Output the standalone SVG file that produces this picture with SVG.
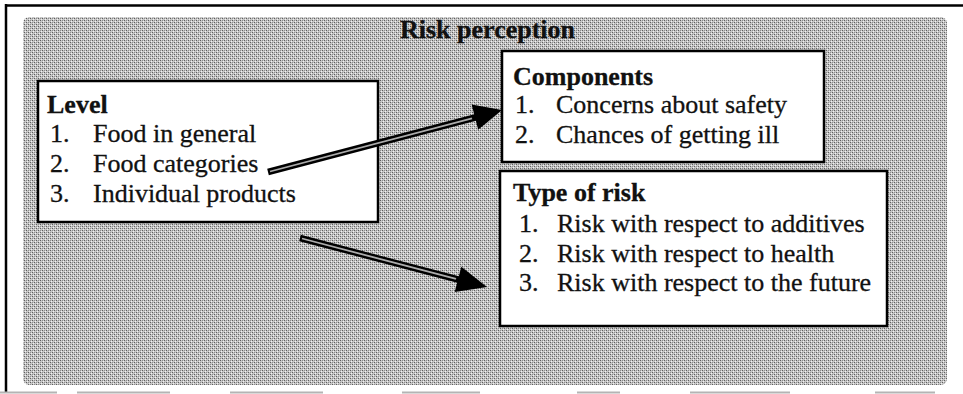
<svg xmlns="http://www.w3.org/2000/svg" width="963" height="394" viewBox="0 0 963 394">
  <defs>
    <pattern id="ht" width="4" height="4" patternUnits="userSpaceOnUse">
      <rect width="4" height="4" fill="#c6c6c6"/>
      <rect x="0" y="0" width="1" height="1" fill="#5e5e5e"/>
      <rect x="2" y="2" width="1" height="1" fill="#5e5e5e"/>
      <rect x="1" y="3" width="1" height="1" fill="#f0f0f0"/>
      <rect x="3" y="1" width="1" height="1" fill="#f0f0f0"/>
      <rect x="2" y="0" width="1" height="1" fill="#8e8e8e"/>
      <rect x="0" y="2" width="1" height="1" fill="#8e8e8e"/>
    </pattern>
    <style>
      .box { fill: #ffffff; stroke: #000000; stroke-width: 2.5; }
      .t { font-family: "Liberation Serif", "Times New Roman", serif; font-size: 26px; fill: #111111; stroke: #111111; stroke-width: 0.3; }
      .b { font-weight: bold; }
      .shaft { fill: none; stroke: #000000; stroke-width: 6.5; stroke-linecap: butt; }
      .inner { fill: none; stroke: #e6e6e6; stroke-width: 1.8; opacity: 0.75; }
      .head { fill: #000000; }
      .frame { stroke: #000000; stroke-width: 2.5; fill: none; }
      .bot { stroke: #b4b4b4; stroke-width: 2; fill: none; }
    </style>
  </defs>

  <rect width="963" height="394" fill="#ffffff"/>

  <g id="frame">
    <line class="frame" x1="5" y1="5.5" x2="963" y2="5.5"/>
    <line class="frame" x1="6" y1="4" x2="6" y2="392"/>
    <path class="bot" d="M0 392.5H57 M77 392.5H170 M230 392.5H323 M402 392.5H480 M577 392.5H620 M690 392.5H790 M875 392.5H935"/>
  </g>

  <g id="background">
    <rect x="23" y="17" width="924" height="368" rx="6" fill="url(#ht)"/>
  </g>

  <g id="title">
    <text class="t b" x="400" y="38" font-size="25">Risk perception</text>
  </g>

  <g id="level">
    <rect class="box" x="38" y="81" width="340" height="141"/>
    <text class="t b" x="47" y="113">Level</text>
    <text class="t" x="50" y="142">1.</text><text class="t" x="93" y="142">Food in general</text>
    <text class="t" x="50" y="172">2.</text><text class="t" x="93" y="172">Food categories</text>
    <text class="t" x="50" y="202">3.</text><text class="t" x="93" y="202">Individual products</text>
  </g>

  <g id="components">
    <rect class="box" x="502" y="51" width="322" height="111"/>
    <text class="t b" x="513" y="85">Components</text>
    <text class="t" x="515" y="113">1.</text><text class="t" x="556" y="113">Concerns about safety</text>
    <text class="t" x="515" y="143">2.</text><text class="t" x="556" y="143">Chances of getting ill</text>
  </g>

  <g id="type-of-risk">
    <rect class="box" x="500" y="171" width="387" height="155"/>
    <text class="t b" x="513" y="201">Type of risk</text>
    <text class="t" x="519" y="232">1.</text><text class="t" x="557" y="232">Risk with respect to additives</text>
    <text class="t" x="519" y="262">2.</text><text class="t" x="557" y="262">Risk with respect to health</text>
    <text class="t" x="519" y="291">3.</text><text class="t" x="557" y="291">Risk with respect to the future</text>
  </g>

  <g id="connectors">
    <g id="arrow-level-components">
      <line class="shaft" x1="268" y1="172" x2="477" y2="117"/>
      <line class="inner" x1="270" y1="171.5" x2="472" y2="118.3"/>
      <polygon class="head" points="502,110 471.6,104.6 478.2,129.8"/>
    </g>
    <g id="arrow-level-type">
      <line class="shaft" x1="300" y1="238" x2="460" y2="280"/>
      <line class="inner" x1="302" y1="238.5" x2="456" y2="278.9"/>
      <polygon class="head" points="487,287 461.3,266.8 454.7,292"/>
    </g>
  </g>
</svg>
